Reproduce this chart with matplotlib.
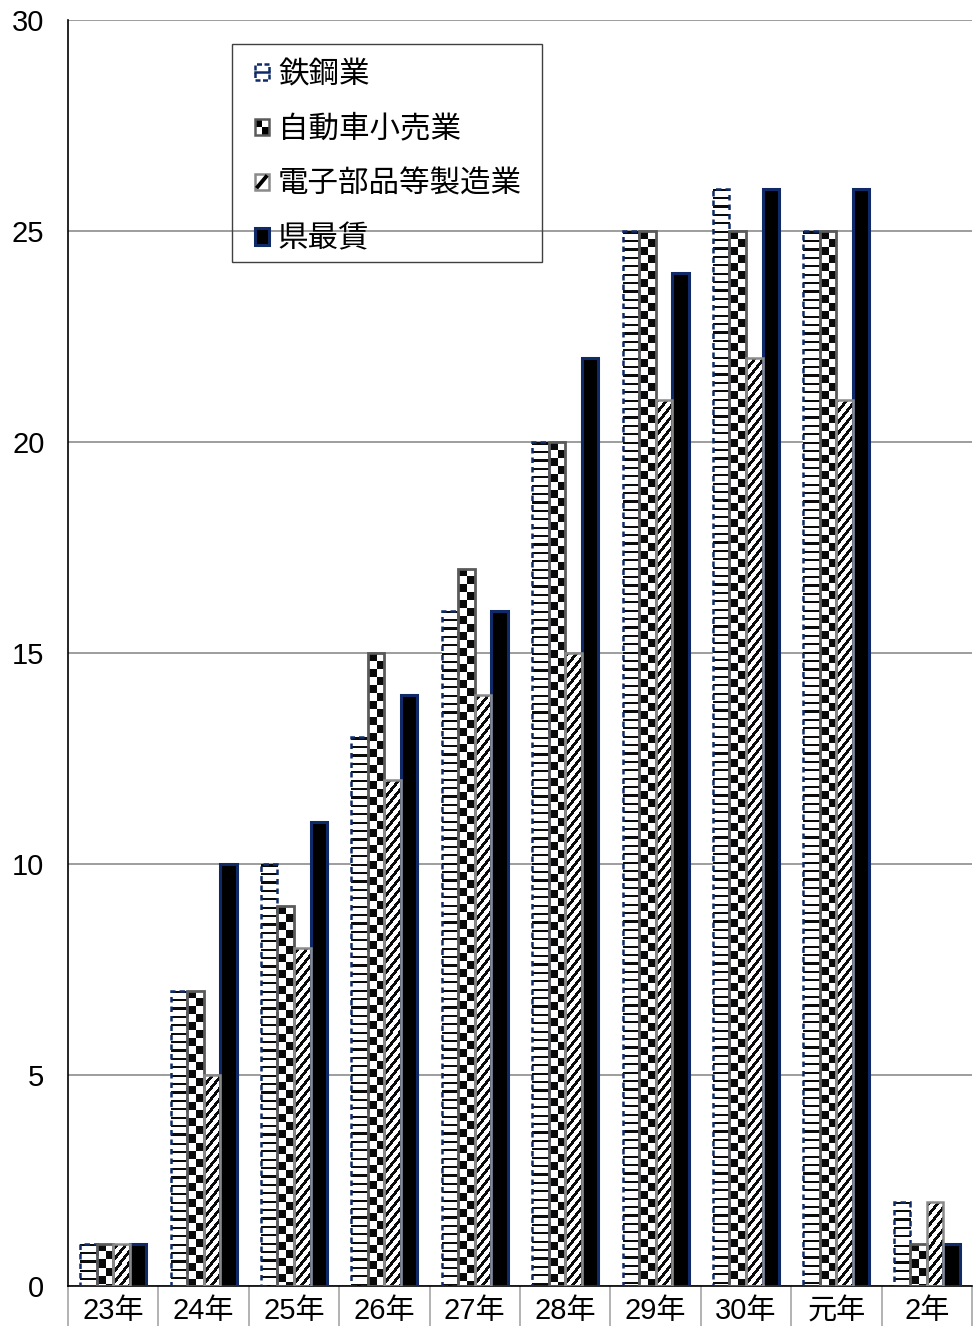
import numpy as np
import matplotlib
matplotlib.use("Agg")
import matplotlib.pyplot as plt
from matplotlib.patches import Rectangle, Patch
from matplotlib.legend_handler import HandlerBase

# ---------------- data ----------------
categories = ["23年", "24年", "25年", "26年", "27年", "28年", "29年", "30年", "元年", "2年"]
series_names = ["鉄鋼業", "自動車小売業", "電子部品等製造業", "県最賃"]
steel = [1, 7, 10, 13, 16, 20, 25, 26, 25, 2]
auto_retail = [1, 7, 9, 15, 17, 20, 25, 25, 25, 1]
electronics = [1, 5, 8, 12, 14, 15, 21, 22, 21, 2]
min_wage = [1, 10, 11, 14, 16, 22, 24, 26, 26, 1]
yticks = [0, 5, 10, 15, 20, 25, 30]

W_PX, H_PX = 973, 1326
fig = plt.figure(figsize=(W_PX / 100, H_PX / 100), dpi=100)
ax_left, ax_right, ax_top, ax_bot = 68, 972, 20, 1286
ax = fig.add_axes([ax_left / W_PX, 1 - ax_bot / H_PX,
                   (ax_right - ax_left) / W_PX, (ax_bot - ax_top) / H_PX])

LAT = ["Liberation Sans", "Noto Sans CJK JP"]
CJK = ["Noto Sans CJK JP", "Liberation Sans"]

n = len(categories)
x = np.arange(n)
bw = 0.183
offs = np.array([-1.5, -0.5, 0.5, 1.5]) * bw

ax.set_xlim(-0.5, n - 0.5)
ax.set_ylim(0, 30)

NAVY = "#0f2a66"
GRAY_EDGE = "#5a5a5a"
GRAY_EDGE2 = "#8a8a8a"

# base white fills
base = []
for i, vals in enumerate([steel, auto_retail, electronics]):
    base.append(ax.bar(x + offs[i], vals, bw, color="white", linewidth=0, zorder=2))
kw = ax.bar(x + offs[3], min_wage, bw, color="black", edgecolor=NAVY, linewidth=2.2, zorder=4)


def texture(container, kind):
    for bar in container:
        bx, bwid, bh = bar.get_x(), bar.get_width(), bar.get_height()
        p0 = ax.transData.transform((bx, 0))
        p1 = ax.transData.transform((bx + bwid, bh))
        Wp = max(1, int(round(p1[0] - p0[0])))
        Hp = max(1, int(round(p1[1] - p0[1])))
        cols = np.arange(Wp)[None, :]
        rows = np.arange(Hp)[:, None]  # from bottom
        rtop = (Hp - 1 - rows)
        if kind == "steel":
            pat = (np.mod(rtop, 8.4) < 2.2) & np.ones_like(cols, dtype=bool)
        elif kind == "check":
            sqw = Wp / 2.0
            sqh = 8.0
            pat = ((np.floor(cols / sqw) + np.floor(rtop / sqh)) % 2) == 0
        else:
            pat = np.mod(rows - 1.25 * cols, 11.0) < 4.6
        img = np.zeros((Hp, Wp, 4))
        img[..., :3] = 0.04
        img[..., 3] = pat.astype(float)
        im = ax.imshow(img, extent=(bx, bx + bwid, 0, bh), origin="lower",
                       interpolation="nearest", aspect="auto", zorder=3)
        im.set_clip_path(bar)


texture(base[0], "steel")
texture(base[1], "check")
texture(base[2], "stripe")
ax.set_xlim(-0.5, n - 0.5)
ax.set_ylim(0, 30)

# edges
ax.bar(x + offs[0], steel, bw, fill=False, edgecolor=NAVY, linewidth=1.8,
       linestyle=(0, (2.2, 1.6)), zorder=4)
ax.bar(x + offs[1], auto_retail, bw, fill=False, edgecolor=GRAY_EDGE, linewidth=2.0, zorder=4)
ax.bar(x + offs[2], electronics, bw, fill=False, edgecolor=GRAY_EDGE2, linewidth=1.8, zorder=4)

# axes styling
ax.set_yticks(yticks)
ax.set_yticklabels([str(v) for v in yticks], fontsize=21, family=LAT)
ax.tick_params(axis="y", length=0, pad=17)
ax.yaxis.grid(True, color="#8c8c8c", linewidth=1.2)
ax.set_axisbelow(True)
for s in ["top", "right"]:
    ax.spines[s].set_visible(False)
ax.spines["left"].set_color("black")
ax.spines["left"].set_linewidth(1.2)
ax.spines["bottom"].set_color("black")
ax.spines["bottom"].set_linewidth(1.2)

ax.set_xticks(x)
ax.set_xticklabels(categories, fontsize=21, family=LAT)
ax.tick_params(axis="x", which="major", length=0, pad=8)
ax.set_xticks(np.arange(n + 1) - 0.5, minor=True)
ax.tick_params(axis="x", which="minor", length=30, width=1.2, color="#a6a6a6", direction="out")


# legend
class CheckerHandler(HandlerBase):
    def create_artists(self, legend, orig_handle, xdescent, ydescent, width, height, fontsize, trans):
        x0, y0 = -xdescent, -ydescent
        bg = Rectangle((x0, y0), width, height, facecolor="white", linewidth=0, transform=trans)
        q1 = Rectangle((x0, y0 + height / 2), width / 2, height / 2, facecolor="black", linewidth=0, transform=trans)
        q2 = Rectangle((x0 + width / 2, y0), width / 2, height / 2, facecolor="black", linewidth=0, transform=trans)
        ed = Rectangle((x0, y0), width, height, fill=False, edgecolor=GRAY_EDGE, linewidth=1.8, transform=trans)
        return [bg, q1, q2, ed]


class StripeHandler(HandlerBase):
    def create_artists(self, legend, orig_handle, xdescent, ydescent, width, height, fontsize, trans):
        x0, y0 = -xdescent, -ydescent
        bg = Rectangle((x0, y0), width, height, facecolor="white", edgecolor=GRAY_EDGE2, linewidth=1.8, transform=trans)
        ln = plt.Line2D([x0 + width * 0.2, x0 + width * 0.8], [y0 + height * 0.2, y0 + height * 0.8],
                        color="black", linewidth=2.8, transform=trans)
        return [bg, ln]


class SteelHandler(HandlerBase):
    def create_artists(self, legend, orig_handle, xdescent, ydescent, width, height, fontsize, trans):
        x0, y0 = -xdescent, -ydescent
        bg = Rectangle((x0, y0), width, height, facecolor="white", edgecolor=NAVY, linewidth=1.8,
                       linestyle=(0, (2, 1)), transform=trans)
        ln = plt.Line2D([x0, x0 + width], [y0 + height / 2, y0 + height / 2],
                        color=NAVY, linewidth=1.8, transform=trans)
        return [bg, ln]


class SolidHandler(HandlerBase):
    def create_artists(self, legend, orig_handle, xdescent, ydescent, width, height, fontsize, trans):
        x0, y0 = -xdescent, -ydescent
        bg = Rectangle((x0, y0), width, height, facecolor="black", edgecolor=NAVY, linewidth=2.2, transform=trans)
        return [bg]


handles = [Patch(label=s) for s in series_names]
hmap = {handles[0]: SteelHandler(), handles[1]: CheckerHandler(),
        handles[2]: StripeHandler(), handles[3]: SolidHandler()}
leg = ax.legend(handles, series_names, handler_map=hmap,
                loc="upper left", bbox_to_anchor=(255 / W_PX, 1 - 59 / H_PX),
                bbox_transform=fig.transFigure, borderaxespad=0,
                prop={"family": CJK, "size": 22}, frameon=False,
                handlelength=0.45, handleheight=0.45, handletextpad=0.3,
                labelspacing=0.78, borderpad=0.0)
leg.set_zorder(5)

# legend frame (transparent, grid shows through)
fig.add_artist(Rectangle((232 / W_PX, 1 - 262 / H_PX), 310 / W_PX, 218 / H_PX,
                         transform=fig.transFigure, fill=False,
                         edgecolor="#404040", linewidth=1.0, zorder=6))

fig.savefig("out.png", dpi=100)
